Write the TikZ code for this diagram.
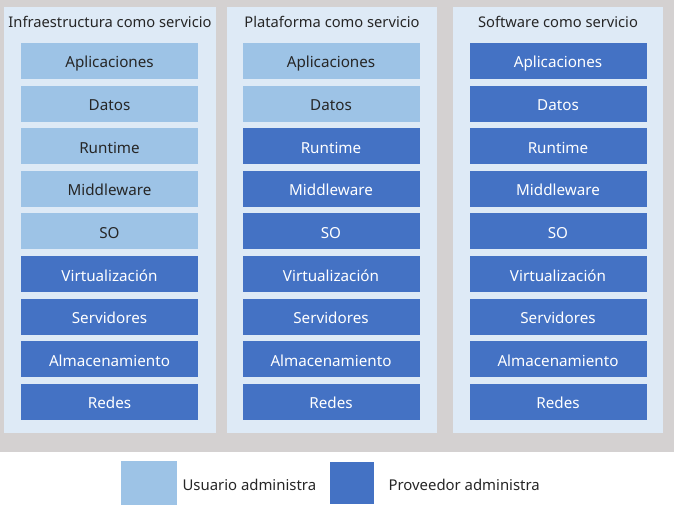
\documentclass[tikz,border=0pt]{standalone}
\usepackage{fontspec}
\setmainfont{Noto Sans}
\definecolor{fondo}{HTML}{D4D1D1}
\definecolor{panel}{HTML}{DEEAF6}
\definecolor{claro}{HTML}{9DC3E6}
\definecolor{oscuro}{HTML}{4472C4}
\definecolor{texto}{HTML}{262626}
\tikzset{
	capa/.style={minimum width=177pt, minimum height=36pt, inner sep=0pt, text height=16pt, text depth=2pt, font=\fontsize{15.2}{17}\selectfont},
	usuario/.style={capa, fill=claro, text=texto},
	proveedor/.style={capa, fill=oscuro, text=white},
	titulo/.style={font=\fontsize{14.7}{16}\selectfont, text=texto},
}
\begin{document}
\begin{tikzpicture}[x=1pt,y=-1pt]
	\useasboundingbox (0,0) rectangle (674,513);
	\fill [fondo] (0,0) rectangle (674,452);% grey background
	\fill [panel] (4,7) rectangle (216,433);
	\fill [panel] (227,7) rectangle (437,433);
	\fill [panel] (453,7) rectangle (663,433);
	
	\node [titulo] (TitIaaS) at (110,21.5) {Infraestructura como servicio};
	\node [titulo] (TitPaaS) at (332,21.5) {Plataforma como servicio};
	\node [titulo] (TitSaaS) at (558,21.5) {Software como servicio};
	
	% Infraestructura como servicio
	\foreach \nombre/\texto/\quien [count=\i] in {apl/Aplicaciones/usuario, dat/Datos/usuario, run/Runtime/usuario, mid/Middleware/usuario, so/SO/usuario, vir/Virtualización/proveedor, ser/Servidores/proveedor, alm/Almacenamiento/proveedor, red/Redes/proveedor}
		\node [\quien] (iaas-\nombre) at (109.5,{61+42.6*(\i-1)}) {\texto};
	
	% Plataforma como servicio
	\foreach \nombre/\texto/\quien [count=\i] in {apl/Aplicaciones/usuario, dat/Datos/usuario, run/Runtime/proveedor, mid/Middleware/proveedor, so/SO/proveedor, vir/Virtualización/proveedor, ser/Servidores/proveedor, alm/Almacenamiento/proveedor, red/Redes/proveedor}
		\node [\quien] (paas-\nombre) at (331,{61+42.6*(\i-1)}) {\texto};
	
	% Software como servicio
	\foreach \nombre/\texto [count=\i] in {apl/Aplicaciones, dat/Datos, run/Runtime, mid/Middleware, so/SO, vir/Virtualización, ser/Servidores, alm/Almacenamiento, red/Redes}
		\node [proveedor] (saas-\nombre) at (558,{61+42.6*(\i-1)}) {\texto};
	
	% leyenda
	\node [fill=claro, minimum width=56pt, minimum height=44pt, inner sep=0pt] (LeyUsuario) at (149,483) {};
	\node [titulo, anchor=west, font=\fontsize{14.9}{16}\selectfont] (TxtUsuario) at (179,484.5) {Usuario administra};
	\node [fill=oscuro, minimum width=44pt, minimum height=42pt, inner sep=0pt] (LeyProveedor) at (352,483) {};
	\node [titulo, anchor=west, font=\fontsize{14.9}{16}\selectfont] (TxtProveedor) at (385,484.5) {Proveedor administra};
\end{tikzpicture}
\end{document}
